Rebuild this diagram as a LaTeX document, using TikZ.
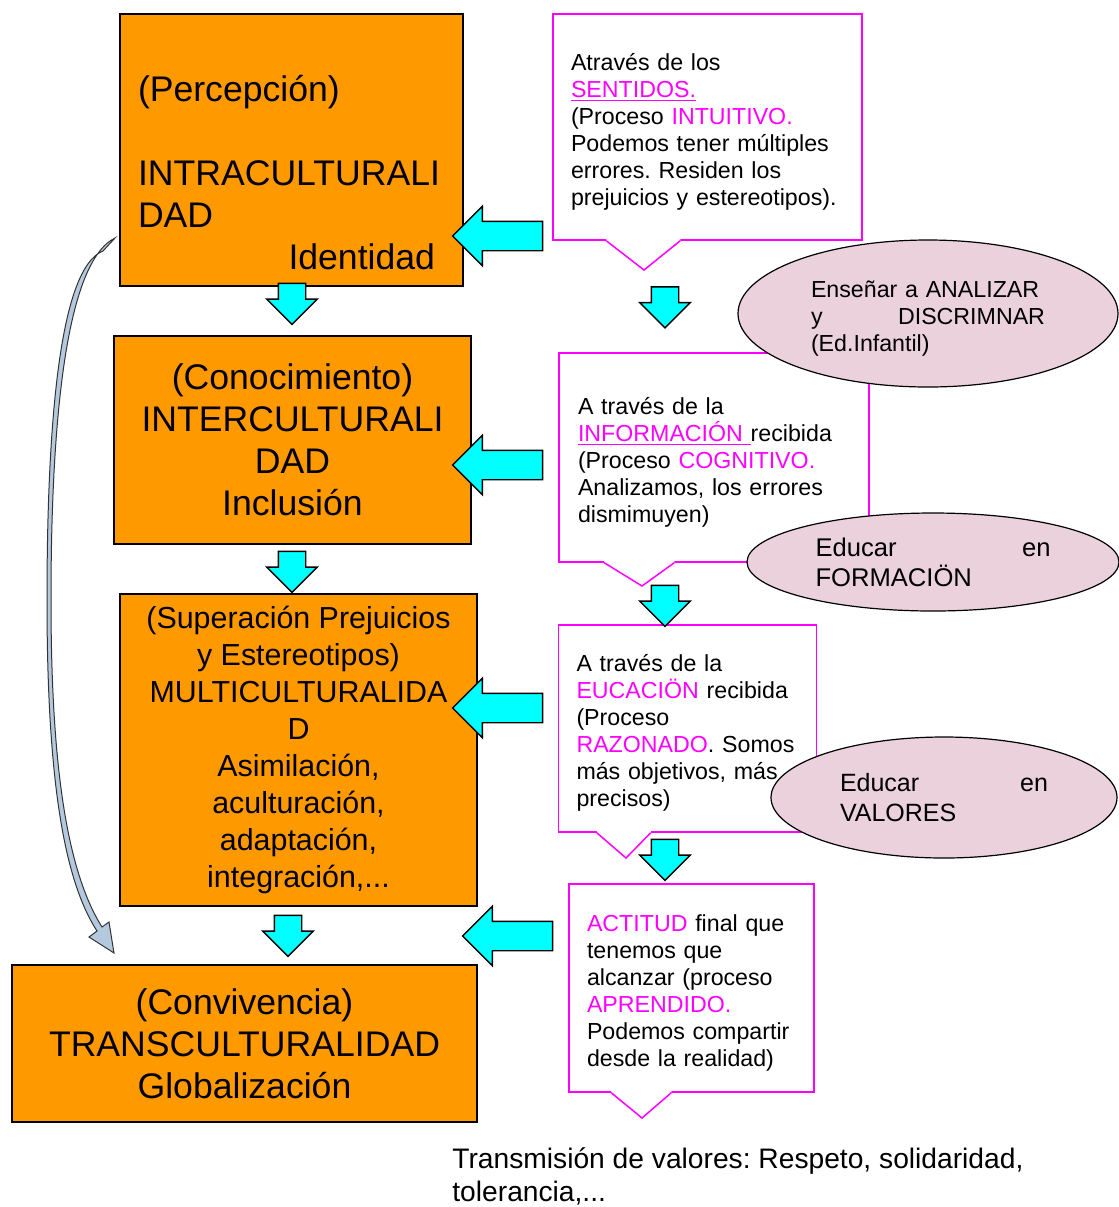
\documentclass[tikz,border=0pt]{standalone}
\usepackage{fontspec}
\setmainfont{Liberation Sans}
\usetikzlibrary{calc,shapes.geometric,shapes.arrows}
\definecolor{boxorange}{HTML}{FF9900}
\definecolor{arrcyan}{HTML}{00FFFF}
\definecolor{callmag}{HTML}{FF00FF}
\definecolor{ellpink}{HTML}{EAD1DC}
\definecolor{curveblue}{HTML}{B4C8DE}
\newcommand\spread{\hskip 0pt plus 1filll\relax}
\newcommand\mg[1]{\textcolor{callmag}{#1}}
\newcommand\topstrut{\rule{0pt}{13pt}}
\frenchspacing

\begin{document}
\begin{tikzpicture}[x=0.5pt, y=-0.5pt]
\tikzset{box/.style={draw=black, fill=boxorange, line width=0.7pt, font=\fontsize{17.8}{21}\selectfont, align=center, inner sep=0pt}}
\tikzset{callbox/.style={rectangle, draw=callmag, fill=white, line width=0.75pt, align=left, inner xsep=9pt, inner ysep=0pt, font=\fontsize{11.6}{13.5}\selectfont}}
\tikzset{callline/.style={draw=callmag, line width=0.75pt}}
\tikzset{bubble/.style={ellipse, draw=black, fill=ellpink, line width=0.6pt, inner sep=0pt, align=left}}
\tikzset{dnarrow/.style={single arrow, draw=black, fill=arrcyan, line width=0.7pt, rotate=-90, minimum height=20.5pt, minimum width=24.5pt, inner xsep=0pt, inner ysep=6.5pt, single arrow head extend=5.75pt}}
\tikzset{lfarrow/.style={single arrow, draw=black, fill=arrcyan, line width=0.7pt, rotate=180, minimum height=45pt, minimum width=29pt, inner xsep=0pt, inner ysep=7pt, single arrow head extend=7.5pt}}
\useasboundingbox (0,0) rectangle (1119,1207);

% left column
\node[box, minimum width=171.5pt, minimum height=136pt, text width=153.5pt, align=left] (b1) at (291.5,150)
  {\strut\\(Percepción)\\\strut\\INTRACULTURALI\\DAD\\\spread Identidad\rule{5pt}{0pt}};
\node[box, minimum width=178.5pt, minimum height=104pt] (b2) at (292.5,440)
  {(Conocimiento)\\INTERCULTURALI\\DAD\\Inclusión};
\node[box, font=\fontsize{15.2}{18.5}\selectfont, minimum width=178.5pt, minimum height=156pt] (b3) at (298.5,750)
  {(Superación Prejuicios\\y Estereotipos)\\MULTICULTURALIDA\\D\\Asimilación,\\aculturación,\\adaptación,\\integración,...};
\node[box, minimum width=232.5pt, minimum height=78.5pt] (b4) at (244.5,1043.5)
  {(Convivencia)\\TRANSCULTURALIDAD\\Globalización};

% right column
\node[callbox, text width=136.5pt, minimum width=154.5pt, minimum height=113pt] (c1) at (707.5,127)
  {\topstrut Através de los\\\mg{\underline{SENTIDOS.}}\\(Proceso \mg{INTUITIVO.}\\Podemos tener múltiples\\errores. Residen los\\prejuicios y estereotipos).};
\node[callbox, text width=136pt, minimum width=155pt, minimum height=104.5pt] (c2) at (714,457.5)
  {\topstrut A través de la\\\mg{\underline{INFORMACIÓN }}recibida\\(Proceso \mg{COGNITIVO.}\\Analizamos, los errores\\dismimuyen)};
\node[callbox, text width=111pt, minimum width=128.5pt, minimum height=103.5pt] (c3) at (687.5,728.5)
  {\topstrut A través de la\\\mg{EUCACIÖN} recibida\\(Proceso\\\mg{RAZONADO}. Somos\\más objetivos, más\\precisos)};
\node[callbox, text width=104.5pt, minimum width=122.5pt, minimum height=104pt] (c4) at (691.5,988)
  {\topstrut\mg{ACTITUD} final que\\tenemos que\\alcanzar (proceso\\\mg{APRENDIDO.}\\Podemos compartir\\desde la realidad)};

% callout pointers
\foreach \c/\a/\b/\tx/\ty in {c1/54/128/644/270, c2/46/116/642/586, c3/39/93/626/858, c4/43/103/642/1118}{
  \coordinate (\c tip) at (\tx,\ty);
  \fill[white] ($(\c.south west)+(\a,-2)$) -- ($(\c.south west)+(\a,0)$) -- (\c tip)
    -- ($(\c.south west)+(\b,0)$) -- ($(\c.south west)+(\b,-2)$) -- cycle;
  \draw[callline] ($(\c.south west)+(\a,0)$) -- (\c tip) -- ($(\c.south west)+(\b,0)$);
}

\node[bubble, minimum width=190pt, minimum height=73.5pt, text width=117pt, font=\fontsize{11.6}{13.5}\selectfont] (e1) at (928,313.5)
  {\topstrut Enseñar a ANALIZAR\\y\spread DISCRIMNAR\\(Ed.Infantil)};
\node[bubble, minimum width=186pt, minimum height=49pt, text width=117.5pt, font=\fontsize{12.8}{15}\selectfont] (e2) at (933,562)
  {Educar\spread en\\FORMACIÖN};
\node[bubble, minimum width=173pt, minimum height=60.5pt, text width=104pt, font=\fontsize{12.5}{15}\selectfont] (e3) at (944,797.5)
  {Educar\spread en\\VALORES};

\node[anchor=west, align=left, inner sep=0pt, font=\fontsize{14.1}{16.5}\selectfont] (note) at (452,1176)
  {Transmisión de valores: Respeto, solidaridad,\\tolerancia,...};

% curved arrow b1 -> b4
\coordinate (ctop) at (115,238);
\coordinate (cbot) at (114,953);
\filldraw[fill=curveblue, draw=black!80, line width=0.5pt] (ctop) .. controls (66,262) and (51,420) .. (51,600)
  .. controls (51,780) and (70,876) .. (102,927) -- (109,922) -- (cbot) -- (89,937) -- (97,931)
  .. controls (64,880) and (47,780) .. (47,600) .. controls (47,420) and (60,268) .. (103,251) -- cycle;

% block arrows
\node[dnarrow] (d12) at (292,297) {};
\node[dnarrow] (d23) at (292,565) {};
\node[dnarrow] (d34) at (288,929) {};
\node[dnarrow] (r12) at (665,300.5) {};
\node[dnarrow] (r23) at (665,599) {};
\node[dnarrow] (r34) at (665,853) {};
\node[lfarrow] (l1) at (505,236) {};
\node[lfarrow] (l2) at (505,465) {};
\node[lfarrow] (l3) at (505,708) {};
\node[lfarrow] (l4) at (515,936) {};
\end{tikzpicture}
\end{document}
